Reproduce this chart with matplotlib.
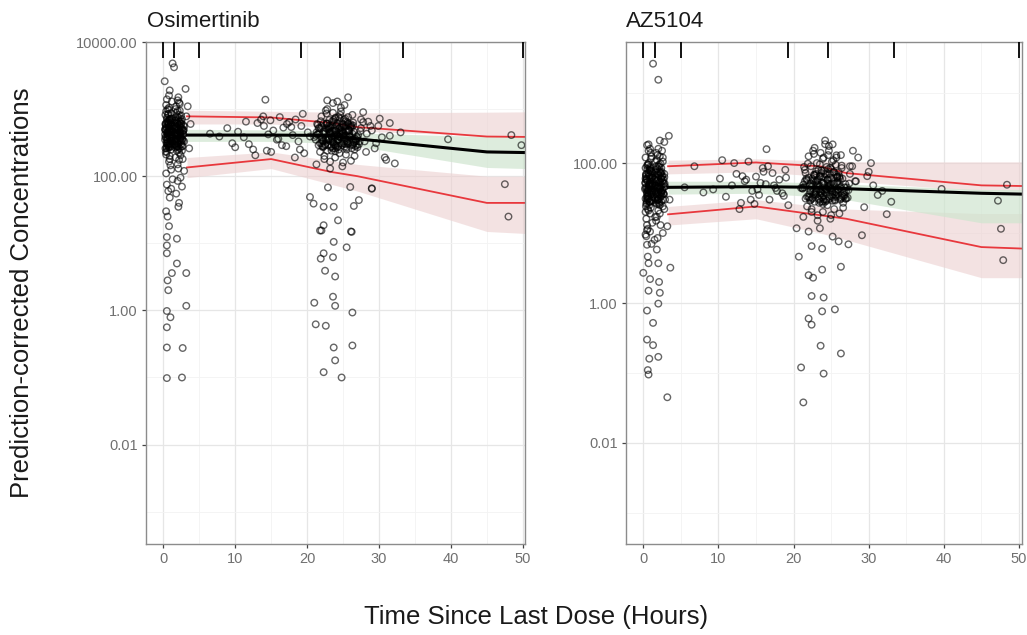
import numpy as np
import matplotlib
matplotlib.use("Agg")
import matplotlib.pyplot as plt
from matplotlib.ticker import FixedLocator, FixedFormatter, NullFormatter

plt.rcParams['font.family'] = ['Liberation Sans', 'DejaVu Sans']

# ---------------- data ----------------
panel_titles = ["Osimertinib", "AZ5104"]
bin_edges = [0, 1.5, 5, 19.2, 24.6, 33.4, 50]
x_ticks = [0, 10, 20, 30, 40, 50]

# --- Osimertinib observations (time, prediction-corrected conc) ---
osi_early_t = [0.3, 0.5, 0.6, 0.8, 0.9, 1.0, 1.1, 1.2, 0.4, 0.7,
               1.6, 1.8, 1.9, 2.1, 2.2, 2.4, 2.5, 2.7, 1.7, 2.0,
               0.4, 0.6, 0.9, 1.1, 0.3, 0.8, 1.2, 0.5, 1.0, 0.7,
               1.7, 2.0, 2.3, 2.6, 1.9, 2.2, 2.8, 1.6, 2.4, 2.1,
               0.5, 0.8, 1.1, 0.3, 0.6, 0.9, 1.2, 0.4, 0.7, 1.0,
               1.8, 2.1, 2.5, 1.6, 2.3, 2.9, 2.0, 1.7, 2.6, 2.2,
               0.6, 0.9, 0.4, 1.1, 0.8, 0.3, 1.2, 0.5, 1.0, 0.7,
               2.0, 2.4, 1.9, 2.7, 1.7, 2.2, 2.5, 1.6, 2.8, 2.3,
               0.4, 0.7, 1.0, 0.5, 0.8, 1.2, 0.3, 0.9, 0.6, 1.1,
               2.1, 1.8, 2.6, 2.3, 1.6, 2.9, 2.0, 2.4, 1.7, 2.2]
osi_early_c = [820, 640, 455, 980, 310, 560, 720, 390, 1150, 270,
               520, 880, 360, 690, 1250, 430, 610, 280, 760, 940,
               210, 350, 480, 250, 600, 165, 330, 740, 420, 530,
               190, 310, 470, 350, 240, 580, 420, 670, 205, 400,
               1400, 1050, 870, 500, 290, 200, 1300, 380, 610, 145,
               1100, 1500, 800, 330, 260, 550, 150, 1000, 710, 225,
               440, 690, 930, 125, 270, 380, 560, 230, 340, 850,
               490, 360, 640, 180, 430, 820, 300, 270, 480, 1200,
               110, 590, 300, 450, 1600, 720, 260, 180, 1000, 470,
               130, 560, 240, 950, 395, 330, 1350, 540, 285, 175]
osi_early2_t = [0.25, 0.45, 0.65, 0.85, 1.05, 1.25, 0.35, 0.55, 0.75, 0.95,
                1.55, 1.75, 1.95, 2.15, 2.35, 2.55, 2.75, 1.65, 1.85, 2.05,
                0.35, 0.55, 0.75, 0.95, 1.15, 0.25, 0.45, 0.65, 0.85, 1.05,
                2.25, 2.45, 1.55, 1.75, 1.95, 2.15, 2.65, 2.85, 2.35, 2.05,
                0.45, 0.65, 0.85, 1.05, 1.25, 0.35, 0.55, 0.75, 0.95, 1.15,
                1.65, 1.85, 2.05, 2.25, 2.45, 2.65, 1.75, 1.95, 2.15, 2.35,
                0.55, 0.75, 0.95, 1.15, 0.25, 0.45, 0.65, 0.85, 1.05, 1.25,
                2.55, 2.75, 1.60, 1.80, 2.00, 2.20, 2.40, 2.60, 2.80, 1.70,
                0.30, 0.50, 0.70, 0.90, 1.10, 0.40, 0.60, 0.80, 1.00, 1.20,
                1.90, 2.10, 2.30, 2.50, 2.70, 1.65, 2.00, 2.20, 2.45, 1.80]
osi_early2_c = [350, 520, 410, 290, 640, 470, 230, 380, 560, 720,
                310, 450, 600, 270, 390, 510, 340, 680, 430, 250,
                580, 310, 440, 670, 360, 500, 270, 830, 390, 610,
                450, 330, 560, 410, 280, 740, 360, 490, 620, 300,
                260, 400, 520, 340, 470, 610, 710, 300, 450, 380,
                540, 280, 420, 650, 370, 490, 330, 760, 400, 560,
                300, 460, 380, 560, 420, 310, 650, 470, 280, 510,
                390, 470, 300, 520, 610, 340, 450, 280, 580, 360,
                480, 350, 630, 270, 410, 540, 320, 700, 460, 390,
                320, 490, 370, 600, 430, 510, 280, 410, 660, 350]
osi_tail_t = [0.5, 0.7, 0.9, 1.3, 2.0, 2.2, 2.6, 0.4, 1.8, 2.4, 0.6, 1.1, 2.9, 0.8, 2.1,
              1.3, 1.5, 0.9, 0.2, 3.1, 3.4, 3.8, 3.2, 3.6,
              0.5, 1.9, 0.5, 0.5, 1.9, 1.2, 3.2, 0.6, 0.7, 3.2, 0.5, 1.0, 0.5, 0.5, 2.7, 0.5, 2.6]
osi_tail_c = [75, 60, 48, 90, 85, 40, 70, 30, 55, 95, 25, 65, 120, 18, 35,
              4800, 4200, 1900, 2600, 2000, 1100, 600, 780, 260,
              12.4, 11.7, 9.3, 7.1, 5.0, 3.6, 3.6, 2.8, 2.0, 1.17, 0.98, 0.79, 0.56, 0.28, 0.275, 0.098, 0.1]
osi_mid_t = [6.5, 7.8, 8.9, 9.6, 10.4, 11.2, 11.9, 12.5, 13.1, 13.6, 14.0, 14.4, 14.9, 15.3, 15.8,
             16.2, 16.7, 17.1, 17.5, 18.0, 18.4, 18.8, 19.2, 19.6, 20.1, 12.8, 13.9, 15.0, 16.0, 17.2,
             18.3, 19.4, 11.5, 14.6, 16.5, 17.8, 19.0, 20.4, 10.0, 14.2]
osi_mid_c = [430, 390, 520, 310, 460, 380, 300, 250, 620, 700, 560, 240, 680, 480, 350,
             760, 530, 280, 640, 410, 700, 330, 560, 220, 450, 205, 780, 230, 360, 600,
             190, 850, 650, 420, 290, 540, 250, 390, 270, 1380]
osi_trough_t = [21.5, 22.3, 23.0, 23.6, 24.2, 24.8, 25.3, 25.9, 26.5, 22.8,
                21.8, 22.6, 23.3, 23.9, 24.5, 25.1, 25.6, 26.2, 26.8, 24.0,
                22.0, 22.9, 23.5, 24.1, 24.7, 25.4, 25.8, 26.4, 21.2, 23.2,
                21.6, 22.4, 23.1, 23.8, 24.4, 25.0, 25.7, 26.3, 27.0, 24.9,
                22.2, 22.7, 23.4, 24.0, 24.6, 25.2, 25.9, 26.6, 21.4, 23.7,
                21.9, 22.5, 23.2, 23.9, 24.3, 25.5, 26.0, 26.9, 22.1, 24.8,
                22.4, 23.0, 23.6, 24.2, 24.9, 25.3, 26.1, 27.3, 21.7, 25.7,
                22.6, 23.3, 23.8, 24.5, 25.1, 25.6, 26.4, 21.3, 23.0, 24.1,
                22.1, 22.8, 23.5, 24.4, 25.0, 25.8, 26.7, 27.5, 24.6, 23.9,
                21.5, 22.3, 23.2, 24.0, 24.7, 25.4, 26.2, 27.8, 28.3, 25.2]
osi_trough_c = [420, 610, 350, 880, 270, 530, 720, 390, 460, 1000,
                230, 380, 560, 190, 440, 310, 640, 260, 350, 750,
                780, 290, 470, 330, 920, 210, 480, 570, 350, 165,
                520, 180, 690, 410, 250, 590, 300, 820, 270, 140,
                330, 860, 240, 560, 380, 1150, 420, 200, 600, 300,
                660, 460, 130, 730, 350, 250, 540, 390, 280, 470,
                200, 520, 320, 1300, 610, 400, 170, 330, 440, 760,
                950, 270, 480, 220, 700, 320, 630, 150, 560, 400,
                370, 240, 660, 510, 160, 490, 280, 520, 820, 235,
                580, 340, 430, 290, 1050, 560, 350, 640, 430, 275]
osi_trough2_t = [21.0, 21.7, 22.5, 23.1, 23.7, 24.3, 24.9, 25.5, 26.1, 26.7,
                 21.3, 22.0, 22.7, 23.4, 24.0, 24.6, 25.2, 25.8, 26.4, 27.1,
                 21.6, 22.3, 22.9, 23.5, 24.1, 24.7, 25.3, 25.9, 26.6, 27.4,
                 21.9, 22.6, 23.2, 23.8, 24.4, 25.0, 25.6, 26.2, 26.9, 22.8,
                 22.1, 22.8, 23.4, 24.0, 24.5, 25.1, 25.7, 26.3, 27.0, 23.6,
                 21.4, 22.2, 23.0, 23.6, 24.2, 24.8, 25.4, 26.0, 26.8, 24.6,
                 21.8, 22.4, 23.1, 23.7, 24.3, 24.9, 25.5, 26.1, 27.2, 25.0,
                 22.0, 22.7, 23.3, 23.9, 24.5, 25.1, 25.7, 26.5, 23.5, 24.2,
                 22.3, 22.9, 23.5, 24.1, 24.7, 25.3, 25.9, 26.7, 22.6, 24.4,
                 21.2, 22.5, 23.2, 23.9, 24.6, 25.2, 25.8, 26.3, 23.0, 24.8]
osi_trough2_c = [380, 520, 290, 460, 640, 350, 430, 270, 560, 330,
                 450, 310, 610, 390, 280, 720, 360, 490, 300, 410,
                 290, 470, 350, 580, 420, 310, 660, 380, 250, 470,
                 520, 360, 440, 300, 760, 400, 330, 540, 290, 610,
                 340, 600, 280, 480, 390, 550, 310, 430, 370, 260,
                 420, 270, 500, 350, 620, 290, 470, 390, 330, 540,
                 310, 430, 370, 690, 280, 460, 350, 590, 300, 410,
                 560, 340, 450, 260, 520, 380, 610, 320, 440, 350,
                 280, 490, 330, 570, 410, 300, 460, 360, 520, 390,
                 400, 300, 530, 380, 470, 330, 580, 290, 360, 450]
osi_late_t = [27.5, 28.0, 28.5, 29.0, 29.4, 29.9, 30.4, 30.8, 31.5, 31.5, 32.2, 28.2, 27.8, 29.6,
              30.1, 33.0, 31.0, 28.8, 39.6, 48.4, 49.8, 47.5, 48.0, 29.0, 25.7, 23.6, 22.8,
              22.9, 26.0, 20.4, 20.9, 22.3, 23.7, 26.5, 27.2, 29.0, 24.3, 22.3, 21.8, 26.1,
              22.0, 26.2, 23.7, 25.5, 22.3, 21.9, 23.6, 22.5, 23.9, 23.6, 21.0, 23.9, 26.3,
              21.2, 22.6, 23.7, 26.3, 23.9, 22.3, 24.8]
osi_late_c = [700, 330, 650, 480, 260, 560, 380, 190, 620, 400, 155, 230, 900, 310,
              720, 450, 175, 560, 355, 410, 290, 76, 25, 66, 1500, 1230, 1350,
              68, 69, 49, 39, 35, 35, 36, 44, 65, 22, 18.6, 15.5, 15,
              15.5, 14.8, 10.5, 8.7, 7.1, 5.9, 6.2, 3.9, 3.2, 1.6, 1.3, 1.17, 0.93,
              0.62, 0.59, 0.28, 0.3, 0.18, 0.12, 0.1]

# --- AZ5104 observations ---
az_early_t = osi_early_t
az_early_c = [60, 38, 95, 25, 52, 140, 33, 72, 45, 21,
              48, 110, 30, 66, 19, 85, 41, 58, 27, 160,
              16, 55, 80, 36, 120, 28, 62, 42, 23, 100,
              90, 35, 52, 24, 130, 44, 70, 17, 38, 75,
              180, 65, 47, 31, 22, 88, 14, 57, 40, 115,
              26, 95, 150, 62, 33, 46, 21, 74, 105, 55,
              34, 19, 70, 125, 49, 85, 29, 13, 59, 43,
              58, 28, 82, 36, 15, 125, 64, 40, 22, 98,
              26, 150, 68, 92, 37, 50, 20, 160, 30, 76,
              45, 17, 120, 72, 104, 30, 39, 60, 140, 25]
az_early2_t = osi_early2_t
az_early2_c = [42, 60, 35, 28, 75, 50, 24, 40, 66, 85,
               32, 48, 70, 27, 39, 55, 36, 80, 45, 26,
               68, 33, 47, 78, 38, 52, 29, 95, 41, 62,
               46, 34, 58, 43, 30, 88, 37, 51, 72, 31,
               27, 41, 55, 36, 49, 65, 82, 31, 47, 39,
               58, 29, 44, 74, 38, 52, 35, 90, 42, 60,
               31, 48, 40, 62, 44, 33, 73, 50, 29, 54,
               41, 50, 31, 56, 68, 36, 47, 30, 63, 38,
               52, 37, 70, 28, 43, 58, 34, 80, 49, 40,
               33, 53, 39, 66, 45, 55, 30, 43, 75, 37]
az_tail_t = [1.3, 2.0, 3.4, 0.7, 0.5, 2.6, 3.2, 0.3, 1.5, 2.8, 0.9, 2.3, 1.1, 0.6, 3.5, 2.2, 1.9, 0.4,
             0.5, 1.8, 0.6, 0.7, 2.0, 3.6, 0.0, 0.9, 2.1, 0.7, 2.2, 0.5, 2.0, 1.3, 0.5, 1.3, 0.8,
             2.0, 0.6, 0.7, 3.2]
az_tail_c = [2630, 1550, 245, 185, 11, 10, 12.5, 9.5, 8, 200, 10.5, 13, 7, 11.5, 30, 210, 8.5, 9,
             6.8, 5.8, 4.6, 3.7, 3.7, 3.2, 2.7, 2.2, 2.0, 1.5, 1.4, 0.78, 0.98, 0.52, 0.30, 0.25, 0.16,
             0.17, 0.11, 0.095, 0.045]
az_mid_t = [5.5, 6.8, 8.0, 9.3, 10.2, 11.0, 11.8, 12.4, 13.0, 13.5, 14.0, 14.5, 15.0, 15.4, 15.9,
            16.3, 16.8, 17.2, 17.6, 18.1, 18.5, 18.9, 19.3, 12.1, 13.2, 14.3, 15.6, 16.6, 17.8, 19.0,
            10.5, 14.8, 16.0, 17.4, 18.7, 13.7, 15.2, 12.8]
az_mid_c = [45, 90, 38, 42, 60, 33, 48, 70, 27, 55, 105, 40, 64, 35, 85,
            50, 30, 72, 44, 58, 37, 80, 25, 100, 65, 30, 52, 90, 40, 62,
            110, 26, 75, 48, 34, 58, 42, 22]
az_trough_t = osi_trough_t
az_trough_c = [55, 90, 35, 140, 28, 70, 110, 42, 60, 165,
               24, 48, 80, 20, 58, 33, 95, 30, 45, 120,
               125, 36, 65, 40, 150, 22, 62, 85, 44, 18,
               72, 20, 100, 52, 29, 82, 38, 130, 31, 16,
               40, 135, 27, 78, 46, 185, 55, 23, 88, 37,
               98, 60, 15, 115, 43, 30, 74, 50, 32, 62,
               22, 70, 39, 210, 86, 51, 19, 41, 57, 120,
               150, 31, 63, 25, 105, 39, 92, 17, 76, 49,
               47, 28, 96, 68, 18, 64, 33, 70, 130, 26,
               80, 41, 56, 34, 175, 74, 44, 90, 55, 29]
az_trough2_t = osi_trough2_t
az_trough2_c = [44, 60, 31, 50, 72, 38, 46, 29, 62, 35,
                49, 33, 68, 42, 30, 82, 39, 53, 32, 45,
                31, 51, 38, 64, 45, 33, 75, 41, 27, 51,
                57, 39, 47, 32, 88, 43, 35, 59, 31, 68,
                36, 66, 30, 52, 42, 60, 33, 46, 40, 28,
                45, 29, 55, 38, 70, 31, 51, 42, 35, 59,
                33, 46, 40, 78, 30, 50, 38, 65, 32, 44,
                62, 36, 49, 28, 57, 41, 68, 34, 47, 38,
                30, 53, 35, 63, 44, 32, 50, 39, 57, 42,
                43, 32, 58, 41, 51, 35, 64, 31, 39, 49]
az_late_t = [27.5, 28.2, 29.1, 29.4, 30.0, 30.6, 31.2, 32.4, 28.6, 29.8, 31.8, 33.0, 27.9, 30.3,
             39.7, 48.4, 47.2, 47.6, 47.9, 16.4, 24.2, 25.7,
             22.4, 23.8, 25.2, 26.0, 27.3, 20.7, 23.8, 26.3, 22.0, 22.6, 22.4, 24.0, 23.8, 25.5,
             22.0, 22.4, 23.6, 26.3, 21.0, 24.0, 21.3, 20.4, 22.0, 23.5]
az_late_c = [90, 55, 9.3, 23.4, 75, 48, 35, 18.6, 120, 65, 40, 28, 150, 100,
             42.7, 49, 29, 11.5, 4.1, 158, 186, 129,
             6.5, 6.0, 8.9, 7.6, 6.9, 4.6, 3.0, 3.3, 2.5, 2.3, 1.26, 1.2, 0.76, 0.81,
             0.6, 0.49, 0.245, 0.19, 0.12, 0.098, 0.038, 11.7, 10.5, 11.7]

# --- VPC summaries at bin times ---
vpc_t = [3.3, 15, 23.5, 27, 45, 50.4]
osi_obs_hi = [780, 750, 620, 540, 390, 385]
osi_obs_med = [410, 410, 405, 360, 230, 225]
osi_obs_lo = [135, 180, 115, 100, 40, 40]
osi_hi_ci = ([600, 600, 530, 470, 400, 400], [960, 930, 900, 880, 900, 910])
osi_med_ci = ([330, 330, 310, 280, 135, 130], [500, 490, 470, 440, 390, 390])
osi_lo_ci = ([95, 130, 75, 60, 15, 14], [190, 230, 170, 150, 100, 100])

az_obs_hi = [90, 102, 90, 72, 48, 47]
az_obs_med = [45, 46, 45, 43, 37, 36]
az_obs_lo = [18.5, 24, 18, 16, 6.3, 6.0]
az_hi_ci = ([70, 75, 65, 55, 40, 40], [110, 115, 108, 104, 104, 104])
az_med_ci = ([36, 37, 33, 30, 14, 14], [55, 55, 52, 50, 42, 42])
az_lo_ci = ([13, 16, 10, 8, 2.3, 2.3], [24, 30, 24, 22, 19, 19])

# ---------------- figure ----------------
fig = plt.figure(figsize=(10.27, 6.35), dpi=100)
ax1 = fig.add_axes([146 / 1027, 1 - 544 / 635, 379 / 1027, 502 / 635])
ax2 = fig.add_axes([626 / 1027, 1 - 544 / 635, 396 / 1027, 502 / 635])

panels = [
    dict(ax=ax1,
         t=osi_early_t + osi_early2_t + osi_tail_t + osi_mid_t + osi_trough_t + osi_trough2_t + osi_late_t,
         c=osi_early_c + osi_early2_c + osi_tail_c + osi_mid_c + osi_trough_c + osi_trough2_c + osi_late_c,
         hi=osi_obs_hi, med=osi_obs_med, lo=osi_obs_lo,
         hi_ci=osi_hi_ci, med_ci=osi_med_ci, lo_ci=osi_lo_ci,
         xlim=(-2.4, 50.3), ylim=(3.3e-4, 1e4),
         yt=[1e4, 1e2, 1, 1e-2], ytl=['10000.00', '100.00', '1.00', '0.01']),
    dict(ax=ax2,
         t=az_early_t + az_early2_t + az_tail_t + az_mid_t + az_trough_t + az_trough2_t + az_late_t,
         c=az_early_c + az_early2_c + az_tail_c + az_mid_c + az_trough_c + az_trough2_c + az_late_c,
         hi=az_obs_hi, med=az_obs_med, lo=az_obs_lo,
         hi_ci=az_hi_ci, med_ci=az_med_ci, lo_ci=az_lo_ci,
         xlim=(-2.3, 50.4), ylim=(3.6e-4, 5370),
         yt=[1e2, 1, 1e-2], ytl=['100.00', '1.00', '0.01']),
]

pink = '#ecd0d0'
green = '#cfe5cf'

for p in panels:
    ax = p['ax']
    ax.set_yscale('log')
    ax.set_xlim(*p['xlim'])
    ax.set_ylim(*p['ylim'])

    # simulated CI bands
    ax.fill_between(vpc_t, p['hi_ci'][0], p['hi_ci'][1], color=pink, alpha=0.6, lw=0, zorder=1)
    ax.fill_between(vpc_t, p['lo_ci'][0], p['lo_ci'][1], color=pink, alpha=0.6, lw=0, zorder=1)
    ax.fill_between(vpc_t, p['med_ci'][0], p['med_ci'][1], color=green, alpha=0.7, lw=0, zorder=1)

    # observed percentiles
    ax.plot(vpc_t, p['hi'], color='#e8383d', lw=1.3, zorder=2)
    ax.plot(vpc_t, p['lo'], color='#e8383d', lw=1.3, zorder=2)
    ax.plot(vpc_t, p['med'], color='black', lw=2.2, zorder=2)

    # observations
    ax.scatter(p['t'], p['c'], s=22, facecolors='none', edgecolors=(0, 0, 0, 0.6),
               linewidths=1.0, zorder=3)

    # bin separators at the top
    ax.vlines(bin_edges, 0.968, 1.0, transform=ax.get_xaxis_transform(),
              color='black', lw=1.3, zorder=4)

    # grid + axes styling (theme_bw look)
    ax.xaxis.set_major_locator(FixedLocator(x_ticks))
    ax.xaxis.set_minor_locator(FixedLocator([5, 15, 25, 35, 45]))
    ax.yaxis.set_major_locator(FixedLocator(p['yt']))
    ax.yaxis.set_major_formatter(FixedFormatter(p['ytl']))
    ax.yaxis.set_minor_locator(FixedLocator([1e3, 10, 0.1, 1e-3]))
    ax.yaxis.set_minor_formatter(NullFormatter())
    ax.grid(which='major', color='#e6e6e6', lw=0.9)
    ax.grid(which='minor', color='#f3f3f3', lw=0.6)
    ax.set_axisbelow(True)
    ax.tick_params(which='major', length=3, width=0.9, color='#444444',
                   labelcolor='#707070', labelsize=10.5, pad=3)
    ax.tick_params(which='minor', length=0)
    for sp in ax.spines.values():
        sp.set_color('#8c8c8c')
        sp.set_linewidth(1.0)

fig.text(147 / 1027, 1 - 27 / 635, panel_titles[0], fontsize=16, color='#1a1a1a', va='baseline')
fig.text(626 / 1027, 1 - 27 / 635, panel_titles[1], fontsize=16, color='#1a1a1a', va='baseline')
fig.text(0.522, 0.028, 'Time Since Last Dose (Hours)', fontsize=18.5, color='#1a1a1a',
         ha='center', va='center')
fig.text(0.0215, 0.539, 'Prediction-corrected Concentrations', fontsize=18.5, color='#1a1a1a',
         rotation=90, ha='center', va='center')

fig.savefig('out.png', dpi=100)
